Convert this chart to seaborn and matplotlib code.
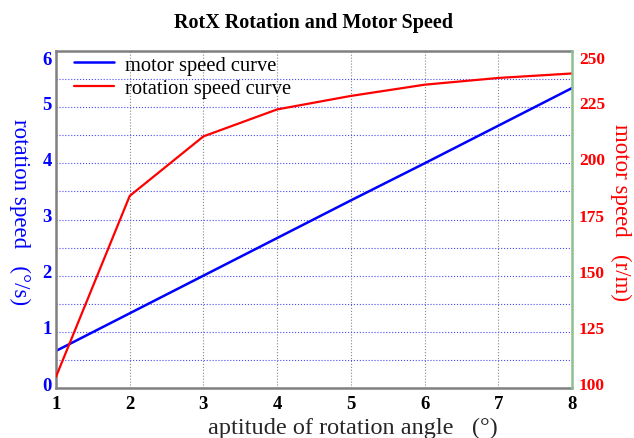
import matplotlib
matplotlib.use('Agg')
import matplotlib.pyplot as plt
import matplotlib.transforms as mtransforms
import pandas as pd
import seaborn as sns

# Data
angle = [1, 2, 3, 4, 5, 6, 7, 8]
motor_speed = [0.66, 1.33, 2.0, 2.67, 3.34, 4.0, 4.67, 5.34]
rotation_speed = [105, 185.5, 212, 224, 230, 235, 238, 240]

df = pd.DataFrame({'angle': angle, 'motor': motor_speed, 'rotation': rotation_speed})

sns.set_style('white')
plt.rcParams['font.family'] = ['Liberation Serif', 'DejaVu Serif']
plt.rcParams['text.color'] = 'black'

fig = plt.figure(figsize=(6.34, 4.39), dpi=100)
ax = fig.add_axes([56 / 634, 1 - 389 / 439, (572 - 56) / 634, (389 - 52) / 439])
ax2 = ax.twinx()

sns.lineplot(data=df, x='angle', y='motor', ax=ax, color='#0000ff', lw=1.8, label='motor speed curve', legend=False)
sns.lineplot(data=df, x='angle', y='rotation', ax=ax2, color='#ff0000', lw=1.6, label='rotation speed curve', legend=False)

ax.set_xlim(1, 8)
ax.set_ylim(0, 6)
ax2.set_ylim(100, 250)
ax.set_xticks(angle)
ax.set_yticks(range(0, 7))
ax.set_yticks([i + 0.5 for i in range(6)], minor=True)
ax2.set_yticks(range(100, 251, 25))

# grid
ax.grid(True, which='both', axis='y', color='#4a4aff', ls=':', lw=0.8)
ax.grid(True, which='major', axis='x', color='#888888', ls=':', lw=0.8)

# tick labels
ax.tick_params(axis='y', which='both', colors='#0000ff', labelsize=13.5, length=0, pad=3)
ax.tick_params(axis='x', colors='black', labelsize=13.5, length=0, pad=5)
ax2.tick_params(axis='y', colors='#ff0000', labelsize=12.5, length=0, pad=5)
for lab in ax.get_xticklabels() + ax.get_yticklabels() + ax2.get_yticklabels():
    lab.set_fontweight('bold')

# the y tick labels sit a little above their ticks, the top one a bit below
def nudge(labels):
    for i, lab in enumerate(labels):
        dy = -4.5 if i == len(labels) - 1 else 3.5
        lab.set_transform(lab.get_transform() + mtransforms.ScaledTranslation(0, dy / 72, fig.dpi_scale_trans))

nudge(ax.get_yticklabels())
nudge(ax2.get_yticklabels())

ax.set_xlabel('aptitude of rotation angle   (°)', fontsize=17.5, va='center')
ax.xaxis.set_label_coords(0.575, -0.116)
ax.set_ylabel('rotation speed   (°/s)', fontsize=16.5, color='#0000ff', rotation=270, va='center')
ax.yaxis.set_label_coords(-0.07, 0.525)
ax2.set_ylabel('motor speed   (r/m)', fontsize=16.5, color='#ff0000', rotation=270, va='center')
ax2.yaxis.set_label_coords(1.095, 0.525)
ax.set_title('RotX Rotation and Motor Speed', fontsize=14.5, fontweight='bold', pad=17)
ax2.set_xlabel('')

for s in ['left', 'top', 'bottom']:
    ax.spines[s].set_color('#808080')
    ax.spines[s].set_linewidth(1.8)
for s in ['left', 'top', 'bottom']:
    ax2.spines[s].set_visible(False)
ax2.spines['right'].set_color('#90c090')
ax2.spines['right'].set_linewidth(1.8)
ax.spines['right'].set_visible(False)

h1, l1 = ax.get_legend_handles_labels()
h2, l2 = ax2.get_legend_handles_labels()
ax.legend(h1 + h2, l1 + l2, loc='upper left', bbox_to_anchor=(0.019, 1.012), frameon=False,
          fontsize=14.8, handlelength=1.95, handletextpad=0.53, borderaxespad=0,
          borderpad=0.4, labelspacing=0.2)

fig.savefig('out.png', dpi=100)
